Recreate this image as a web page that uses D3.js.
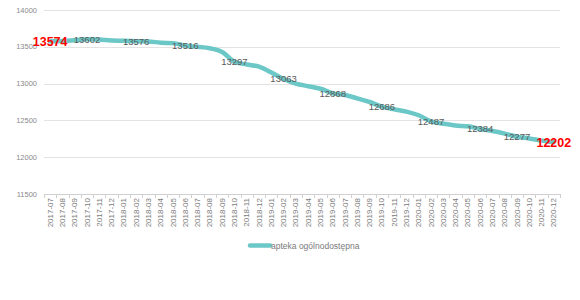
<!DOCTYPE html>
<html>
<head>
<meta charset="utf-8">
<script src="https://cdn.jsdelivr.net/npm/d3@7"></script>
<style>
  body { margin: 0; background: #fff; }
  text { font-family: "Liberation Sans", Arial, sans-serif; }
</style>
</head>
<body>
<script>
// months on the x axis
var months = ["2017-07","2017-08","2017-09","2017-10","2017-11","2017-12",
    "2018-01","2018-02","2018-03","2018-04","2018-05","2018-06","2018-07","2018-08","2018-09","2018-10","2018-11","2018-12",
    "2019-01","2019-02","2019-03","2019-04","2019-05","2019-06","2019-07","2019-08","2019-09","2019-10","2019-11","2019-12",
    "2020-01","2020-02","2020-03","2020-04","2020-05","2020-06","2020-07","2020-08","2020-09","2020-10","2020-11","2020-12"];

// apteka ogólnodostępna (labelled ones exact)
var values = [13574, 13580, 13590, 13602, 13598, 13586, 13582, 13576, 13572, 13556, 13550, 13516,
    13500, 13480, 13430, 13297, 13260, 13230, 13150, 13063, 13000, 12965, 12930, 12868,
    12845, 12800, 12750, 12686, 12650, 12620, 12570, 12487, 12455, 12430, 12420, 12384,
    12355, 12320, 12277, 12255, 12225, 12202];

// which points carry a label, and which are highlighted
var labelIdx = [0, 3, 7, 11, 15, 19, 23, 27, 31, 35, 38, 41];
var redIdx = [0, 41];

var yTicks = [11500, 12000, 12500, 13000, 13500, 14000];
var seriesName = "apteka ogólnodostępna";

drawChart();

function drawChart(){
    var width = 580, height = 300;
    var plotLeft = 44, plotRight = 560, plotTop = 10, plotBottom = 194;

    var svg = d3.select("body").append("svg")
        .attr("width", width)
        .attr("height", height);

    var x = d3.scaleBand()
        .domain(months)
        .range([plotLeft, plotRight]);

    var y = d3.scaleLinear()
        .domain([11500, 14000])
        .range([plotBottom, plotTop]);

    // gridlines
    svg.selectAll(".grid")
        .data(yTicks)
        .enter()
        .append("line")
        .attr("x1", plotLeft)
        .attr("x2", plotRight)
        .attr("y1", function(d){ return Math.round(y(d)) + 0.5; })
        .attr("y2", function(d){ return Math.round(y(d)) + 0.5; })
        .attr("stroke", function(d){ return d == 11500 ? "#d0d0d0" : "#e3e3e3"; })
        .attr("stroke-width", 1);

    // y labels
    svg.selectAll(".ylab")
        .data(yTicks)
        .enter()
        .append("text")
        .attr("x", 37)
        .attr("y", function(d){ return y(d) + 2.5; })
        .attr("text-anchor", "end")
        .attr("font-size", "7.5px")
        .attr("fill", "#8a8a8a")
        .text(function(d){ return d; });

    // x axis labels
    var xAxis = d3.axisBottom(x).tickSize(0);
    var gx = svg.append("g")
        .attr("transform", "translate(0," + plotBottom + ")")
        .call(xAxis);
    gx.select(".domain").remove();
    gx.selectAll(".tick line").remove();
    gx.selectAll("text")
        .attr("transform", "rotate(-90)")
        .attr("x", -4)
        .attr("y", 0)
        .attr("dy", "0.32em")
        .attr("text-anchor", "end")
        .attr("font-size", "8px")
        .attr("font-family", "Liberation Sans, Arial, sans-serif")
        .attr("fill", "#7a7a7a");

    // ticks between categories
    svg.selectAll(".xtick")
        .data(d3.range(months.length + 1))
        .enter()
        .append("line")
        .attr("x1", function(i){ return Math.round(plotLeft + i * x.step()) + 0.5; })
        .attr("x2", function(i){ return Math.round(plotLeft + i * x.step()) + 0.5; })
        .attr("y1", plotBottom)
        .attr("y2", plotBottom + 4)
        .attr("stroke", "#d0d0d0");

    // the line
    var line = d3.line()
        .x(function(d, i){ return x(months[i]) + x.bandwidth() / 2; })
        .y(function(d){ return y(d); })
        .curve(d3.curveMonotoneX);

    svg.append("path")
        .datum(values)
        .attr("d", line)
        .attr("fill", "none")
        .attr("stroke", "#6cc7c7")
        .attr("stroke-width", 4.5)
        .attr("stroke-linecap", "round");

    // data labels
    svg.selectAll(".lab")
        .data(labelIdx)
        .enter()
        .append("text")
        .attr("x", function(i){ return x(months[i]) + x.bandwidth() / 2; })
        .attr("y", function(i){ return y(values[i]) + (redIdx.indexOf(i) >= 0 ? 4.5 : 3.5); })
        .attr("text-anchor", "middle")
        .attr("font-size", function(i){ return redIdx.indexOf(i) >= 0 ? "12.5px" : "9.5px"; })
        .attr("font-weight", function(i){ return redIdx.indexOf(i) >= 0 ? "bold" : "normal"; })
        .attr("fill", function(i){ return redIdx.indexOf(i) >= 0 ? "#ff0000" : "#595959"; })
        .text(function(i){ return values[i]; });

    // legend
    svg.append("line")
        .attr("x1", 250).attr("x2", 270)
        .attr("y1", 245.5).attr("y2", 245.5)
        .attr("stroke", "#6cc7c7")
        .attr("stroke-width", 4.5)
        .attr("stroke-linecap", "round");
    svg.append("text")
        .attr("x", 271)
        .attr("y", 248.5)
        .attr("font-size", "8.5px")
        .attr("fill", "#7a7a7a")
        .text(seriesName);
}
</script>
</body>
</html>
